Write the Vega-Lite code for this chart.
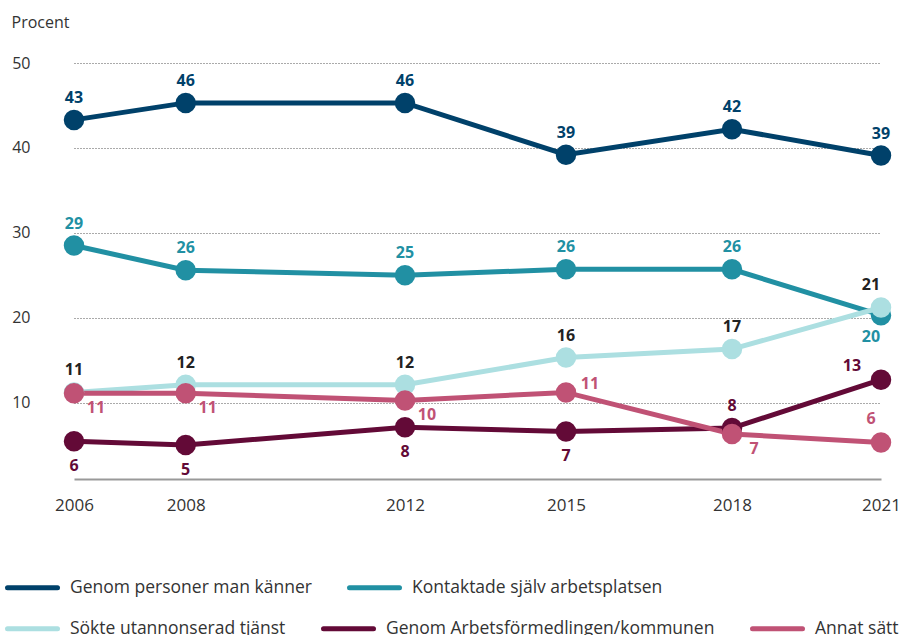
{
  "$schema": "https://vega.github.io/schema/vega-lite/v6.json",
  "width": 857,
  "height": 416,
  "autosize": {"type": "none"},
  "padding": {"left": 48, "top": 63, "right": 2, "bottom": 156},
  "background": "white",
  "config": {
    "view": {"stroke": null},
    "font": "Open Sans",
    "legend": {
      "orient": "none",
      "direction": "horizontal",
      "title": null,
      "padding": 0,
      "labelFont": "Open Sans",
      "labelFontSize": 17.5,
      "labelColor": "#333333",
      "labelLimit": 0,
      "symbolType": "stroke",
      "symbolSize": 2500,
      "symbolStrokeWidth": 5,
      "labelOffset": 10,
      "columnPadding": 27
    }
  },
  "data": {
    "values": [
      {"series": "Genom personer man känner", "year": 2006, "value": 43.3, "label": "43"},
      {"series": "Genom personer man känner", "year": 2008, "value": 45.3, "label": "46"},
      {"series": "Genom personer man känner", "year": 2012, "value": 45.3, "label": "46"},
      {"series": "Genom personer man känner", "year": 2015, "value": 39.2, "label": "39"},
      {"series": "Genom personer man känner", "year": 2018, "value": 42.2, "label": "42"},
      {"series": "Genom personer man känner", "year": 2021, "value": 39.1, "label": "39"},
      {"series": "Kontaktade själv arbetsplatsen", "year": 2006, "value": 28.5, "label": "29"},
      {"series": "Kontaktade själv arbetsplatsen", "year": 2008, "value": 25.6, "label": "26"},
      {"series": "Kontaktade själv arbetsplatsen", "year": 2012, "value": 25.0, "label": "25"},
      {"series": "Kontaktade själv arbetsplatsen", "year": 2015, "value": 25.7, "label": "26"},
      {"series": "Kontaktade själv arbetsplatsen", "year": 2018, "value": 25.7, "label": "26"},
      {"series": "Kontaktade själv arbetsplatsen", "year": 2021, "value": 20.3, "label": "20"},
      {"series": "Sökte utannonserad tjänst", "year": 2006, "value": 11.2, "label": "11"},
      {"series": "Sökte utannonserad tjänst", "year": 2008, "value": 12.1, "label": "12"},
      {"series": "Sökte utannonserad tjänst", "year": 2012, "value": 12.1, "label": "12"},
      {"series": "Sökte utannonserad tjänst", "year": 2015, "value": 15.3, "label": "16"},
      {"series": "Sökte utannonserad tjänst", "year": 2018, "value": 16.3, "label": "17"},
      {"series": "Sökte utannonserad tjänst", "year": 2021, "value": 21.2, "label": "21"},
      {"series": "Genom Arbetsförmedlingen/kommunen", "year": 2006, "value": 5.45, "label": "6"},
      {"series": "Genom Arbetsförmedlingen/kommunen", "year": 2008, "value": 5.0, "label": "5"},
      {"series": "Genom Arbetsförmedlingen/kommunen", "year": 2012, "value": 7.1, "label": "8"},
      {"series": "Genom Arbetsförmedlingen/kommunen", "year": 2015, "value": 6.6, "label": "7"},
      {"series": "Genom Arbetsförmedlingen/kommunen", "year": 2018, "value": 7.0, "label": "8"},
      {"series": "Genom Arbetsförmedlingen/kommunen", "year": 2021, "value": 12.7, "label": "13"},
      {"series": "Annat sätt", "year": 2006, "value": 11.1, "label": "11"},
      {"series": "Annat sätt", "year": 2008, "value": 11.1, "label": "11"},
      {"series": "Annat sätt", "year": 2012, "value": 10.25, "label": "10"},
      {"series": "Annat sätt", "year": 2015, "value": 11.2, "label": "11"},
      {"series": "Annat sätt", "year": 2018, "value": 6.3, "label": "7"},
      {"series": "Annat sätt", "year": 2021, "value": 5.3, "label": "6"}
    ]
  },
  "encoding": {
    "x": {
      "field": "year",
      "type": "quantitative",
      "scale": {
        "domain": [2006, 2008, 2012, 2015, 2018, 2021],
        "range": [26, 137.7, 357, 518, 684, 833],
        "nice": false,
        "zero": false
      },
      "axis": {
        "title": null,
        "values": [2006, 2008, 2012, 2015, 2018, 2021],
        "format": "d",
        "grid": false,
        "ticks": false,
        "tickSize": 0,
        "labelFlush": false,
        "labelPadding": 18,
        "labelFontSize": 17,
        "labelColor": "#333333",
        "labelFont": "Open Sans",
        "domainColor": "#999999",
        "domainWidth": 2
      }
    },
    "y": {
      "field": "value",
      "type": "quantitative",
      "scale": {"domain": [1, 50], "nice": false, "zero": false},
      "axis": {
        "title": "Procent",
        "titleAngle": 0,
        "titleAlign": "left",
        "titleBaseline": "middle",
        "titleX": -37,
        "titleY": -41,
        "titleFont": "Open Sans",
        "titleFontSize": 16,
        "titleFontWeight": "normal",
        "titleColor": "#333333",
        "values": [10, 20, 30, 40, 50],
        "domain": false,
        "ticks": false,
        "tickSize": 0,
        "labelPadding": 18,
        "labelFontSize": 16,
        "labelColor": "#333333",
        "labelFont": "Open Sans",
        "grid": true,
        "gridColor": "#555555",
        "gridDash": [1, 2],
        "gridWidth": 1
      }
    }
  },
  "layer": [
    {
      "transform": [{"filter": {"field": "series", "oneOf": ["Genom personer man känner", "Kontaktade själv arbetsplatsen"]}}],
      "layer": [
        {
          "mark": {"type": "line", "strokeWidth": 5},
          "encoding": {
            "color": {
              "field": "series",
              "type": "nominal",
              "scale": {"domain": ["Genom personer man känner", "Kontaktade själv arbetsplatsen"], "range": ["#00416a", "#2190a3"]},
              "legend": {"legendX": -43, "legendY": 497, "symbolType": "stroke", "encode": {"symbols": {"update": {"strokeCap": {"value": "round"}}}}}
            }
          }
        },
        {
          "mark": {"type": "point", "filled": true, "opacity": 1, "size": 420},
          "encoding": {
            "color": {"field": "series", "type": "nominal"}
          }
        }
      ]
    },
    {
      "transform": [{"filter": {"field": "series", "oneOf": ["Sökte utannonserad tjänst", "Genom Arbetsförmedlingen/kommunen", "Annat sätt"]}}],
      "layer": [
        {
          "mark": {"type": "line", "strokeWidth": 5},
          "encoding": {
            "color": {
              "field": "series",
              "type": "nominal",
              "scale": {"domain": ["Sökte utannonserad tjänst", "Genom Arbetsförmedlingen/kommunen", "Annat sätt"], "range": ["#acdfe1", "#630a37", "#c05275"]},
              "legend": {"legendX": -43, "legendY": 538, "symbolType": "stroke", "encode": {"symbols": {"update": {"strokeCap": {"value": "round"}}}}}
            }
          }
        },
        {
          "mark": {"type": "point", "filled": true, "opacity": 1, "size": 420},
          "encoding": {
            "color": {"field": "series", "type": "nominal"}
          }
        }
      ]
    },
    {
      "encoding": {
        "text": {"field": "label", "type": "nominal"},
        "color": {
          "field": "series",
          "type": "nominal",
          "scale": {
            "domain": ["Genom personer man känner", "Kontaktade själv arbetsplatsen", "Sökte utannonserad tjänst", "Genom Arbetsförmedlingen/kommunen", "Annat sätt"],
            "range": ["#00416a", "#2190a3", "#222222", "#630a37", "#c05275"]
          },
          "legend": null
        }
      },
      "layer": [
        {
          "transform": [{"filter": "datum.series == 'Genom personer man känner' || (datum.series == 'Kontaktade själv arbetsplatsen' && datum.year < 2021) || (datum.series == 'Sökte utannonserad tjänst' && datum.year < 2021) || (datum.series == 'Genom Arbetsförmedlingen/kommunen' && datum.year == 2018)"}],
          "mark": {"type": "text", "fontSize": 16, "fontWeight": "bold", "font": "Open Sans", "align": "center", "baseline": "middle", "dy": -22}
        },
        {
          "transform": [{"filter": "datum.series == 'Genom Arbetsförmedlingen/kommunen' && datum.year <= 2015"}],
          "mark": {"type": "text", "fontSize": 16, "fontWeight": "bold", "font": "Open Sans", "align": "center", "baseline": "middle", "dy": 25}
        },
        {
          "transform": [{"filter": "datum.series == 'Kontaktade själv arbetsplatsen' && datum.year == 2021"}],
          "mark": {"type": "text", "fontSize": 16, "fontWeight": "bold", "font": "Open Sans", "align": "center", "baseline": "middle", "dx": -10, "dy": 22}
        },
        {
          "transform": [{"filter": "(datum.series == 'Sökte utannonserad tjänst' || datum.series == 'Annat sätt') && datum.year == 2021"}],
          "mark": {"type": "text", "fontSize": 16, "fontWeight": "bold", "font": "Open Sans", "align": "center", "baseline": "middle", "dx": -10, "dy": -23}
        },
        {
          "transform": [{"filter": "datum.series == 'Annat sätt' && (datum.year == 2006 || datum.year == 2008 || datum.year == 2012 || datum.year == 2018)"}],
          "mark": {"type": "text", "fontSize": 16, "fontWeight": "bold", "font": "Open Sans", "align": "center", "baseline": "middle", "dx": 22, "dy": 15}
        },
        {
          "transform": [{"filter": "datum.series == 'Annat sätt' && datum.year == 2015"}],
          "mark": {"type": "text", "fontSize": 16, "fontWeight": "bold", "font": "Open Sans", "align": "center", "baseline": "middle", "dx": 24, "dy": -8}
        },
        {
          "transform": [{"filter": "datum.series == 'Genom Arbetsförmedlingen/kommunen' && datum.year == 2021"}],
          "mark": {"type": "text", "fontSize": 16, "fontWeight": "bold", "font": "Open Sans", "align": "center", "baseline": "middle", "dx": -29, "dy": -14}
        }
      ]
    }
  ],
  "resolve": {"scale": {"color": "independent"}}
}
